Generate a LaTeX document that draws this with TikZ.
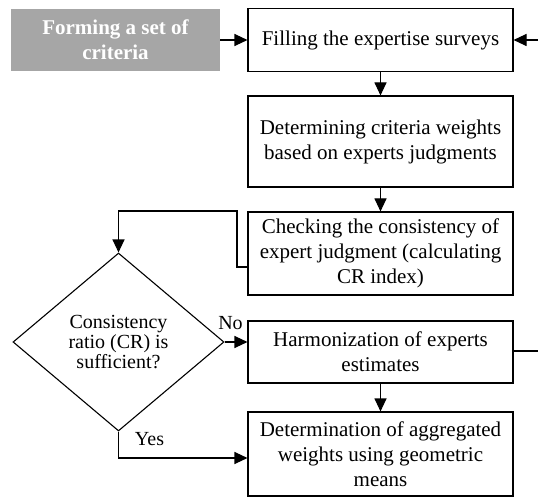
\documentclass[tikz,border=0pt]{standalone}
\usepackage{fontspec}
\setmainfont{Liberation Serif}
\usetikzlibrary{shapes.geometric,arrows.meta}
\definecolor{graybox}{RGB}{166,166,166}
\tikzset{
  boxtxt/.style={font=\fontsize{21}{25}\selectfont},
  stepbox/.style={draw=black, line width=1.1pt, rectangle, minimum width=265pt, inner sep=0pt, align=center, boxtxt},
  graynode/.style={fill=graybox, rectangle, minimum width=209pt, minimum height=62pt, inner sep=0pt, align=center, text=white, font=\fontsize{21}{25}\selectfont\bfseries},
  decision/.style={draw=black, line width=1.1pt, diamond, minimum width=211pt, minimum height=178pt, inner sep=0pt, align=center, font=\fontsize{20}{20}\selectfont},
  lbl/.style={font=\fontsize{20}{22}\selectfont, inner sep=0pt},
  conn/.style={draw=black, line width=1.1pt},
  arr/.style={conn, -{Triangle[length=13pt,width=12pt]}},
}
\begin{document}
\begin{tikzpicture}[x=1pt,y=-1pt]
\useasboundingbox (0,0) rectangle (538,497);
\node[graynode] (g) at (115.5,40) {Forming a set of\\criteria};
\node[stepbox, minimum height=63pt] (b1) at (380.5,40) {Filling the expertise surveys};
\node[stepbox, minimum height=91pt] (b2) at (380.5,141.5) {Determining criteria weights\\based on experts judgments};
\node[stepbox, minimum height=83pt] (b3) at (380.5,253.5) {Checking the consistency of\\expert judgment (calculating\\CR index)};
\node[stepbox, minimum height=62pt] (b4) at (380.5,352) {Harmonization of experts\\estimates};
\node[stepbox, minimum height=84pt] (b5) at (380.5,454) {Determination of aggregated\\weights using geometric\\means};
\node[decision] (d) at (118.5,342) {Consistency\\ratio (CR) is\\sufficient?};
\coordinate (r1) at (538,40);
\coordinate (r4) at (538,351);
\coordinate (k1) at (237,211);
\draw[arr] (g.east) -- (b1.west);
\draw[arr] (r1) -- (b1.east);
\draw[arr] (b1.south) -- (b2.north);
\draw[arr] (b2.south) -- (b3.north);
\draw[arr] ([yshift=-13.5pt]b3.west) -| (k1) -| (d.north);
\draw[arr] (d.east) -- (b4.west |- d.east);
\draw[conn] ([yshift=1pt]b4.east) -- (r4);
\draw[arr] (b4.south) -- (b5.north);
\draw[arr] (d.south) |- ([yshift=-4pt]b5.west);
\node[lbl] (no) at (230.5,323) {No};
\node[lbl] (yes) at (149.5,439) {Yes};
\end{tikzpicture}
\end{document}
